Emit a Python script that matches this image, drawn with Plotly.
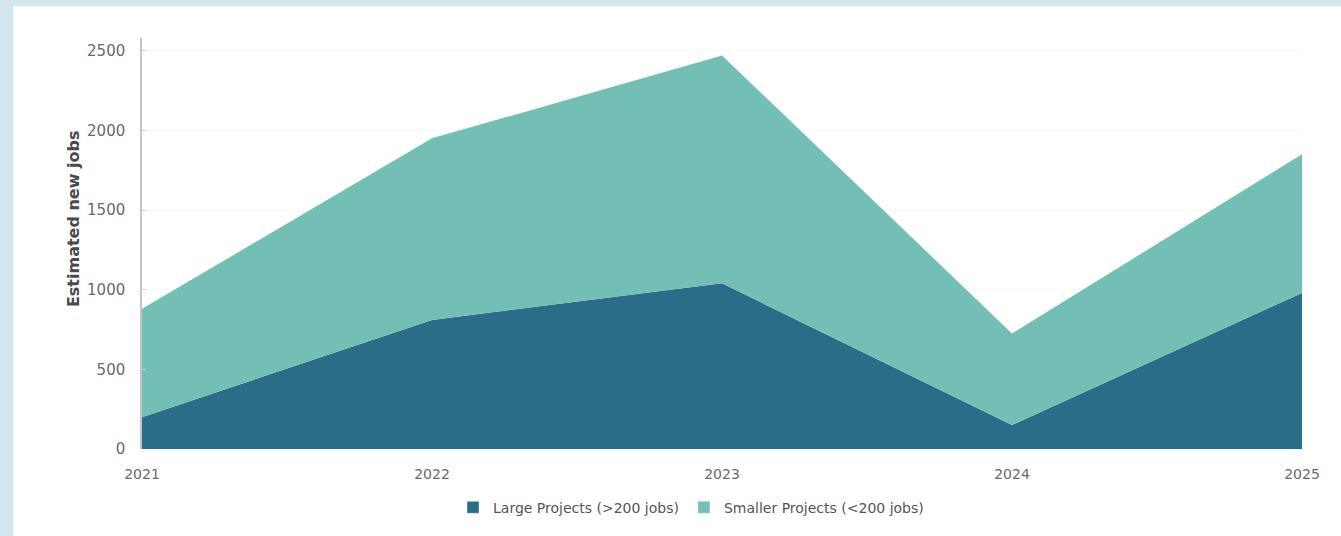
import plotly.graph_objects as go

years = [2021, 2022, 2023, 2024, 2025]
large_projects = [200, 810, 1040, 150, 980]
smaller_projects = [680, 1140, 1430, 575, 870]
series_names = ["Large Projects (>200 jobs)", "Smaller Projects (<200 jobs)"]
series_colors = ["#2b6c88", "#74bfb5"]
y_ticks = [0, 500, 1000, 1500, 2000, 2500]

W, H = 1341, 536
L, R, T, B = 142, 39, 38, 85
pw, ph = W - L - R, H - T - B

def px_x(p):
    return (p - L) / pw

def px_y(p):
    return (H - B - p) / ph

FONT = "DejaVu Sans, Liberation Sans, Arial, sans-serif"

fig = go.Figure()
for vals, name, col in zip([large_projects, smaller_projects], series_names, series_colors):
    fig.add_trace(go.Scatter(x=years, y=vals, name=name, stackgroup="one", mode="none",
                             fillcolor=col, showlegend=False, hoverinfo="x+y+name"))
# legend-only square markers
for name, col in zip(series_names, series_colors):
    fig.add_trace(go.Bar(x=[None], y=[None], name=name, marker_color=col, showlegend=True))

fig.add_shape(type="rect", xref="paper", yref="paper", layer="below",
              x0=px_x(13), x1=px_x(W + 5), y0=px_y(H + 5), y1=px_y(6),
              fillcolor="white", line=dict(width=0))

fig.add_annotation(text="<b>Estimated new jobs</b>", xref="paper", yref="paper",
                   x=px_x(73), y=px_y(220), xanchor="center", yanchor="middle",
                   textangle=-90, showarrow=False,
                   font=dict(family=FONT, size=16, color="#4a4a4a"))

fig.update_layout(
    width=W, height=H,
    margin=dict(l=L, r=R, t=T, b=B),
    paper_bgcolor="#d3e5ed", plot_bgcolor="rgba(0,0,0,0)",
    font=dict(family=FONT, color="#666", size=14),
    showlegend=True,
    legend=dict(orientation="h", x=px_x(691), xanchor="center", y=px_y(510), yanchor="middle",
                font=dict(family=FONT, size=14, color="#555"), traceorder="normal",
                itemwidth=30, bgcolor="rgba(0,0,0,0)"),
    xaxis=dict(range=[2021, 2025], tickvals=years, ticktext=[str(y) for y in years],
               showgrid=False, zeroline=False, showline=False, ticks="",
               ticklabelstandoff=15,
               tickfont=dict(family=FONT, size=14, color="#6a6a6a")),
    yaxis=dict(range=[0, 2580], tickvals=y_ticks,
               showgrid=True, gridcolor="#f7f7f7", zeroline=False,
               showline=True, linecolor="#c4c4c4", linewidth=1.5,
               ticks="inside", ticklen=4, tickcolor="#d0d0d0",
               tickfont=dict(family=FONT, size=15, color="#6a6a6a"), ticklabelstandoff=12),
)

fig.write_html("out.html")
